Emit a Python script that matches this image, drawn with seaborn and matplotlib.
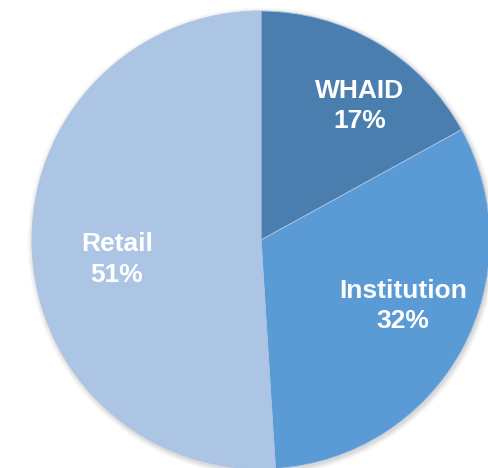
import numpy as np
import matplotlib
matplotlib.use("Agg")
import matplotlib.pyplot as plt
import seaborn as sns

segments = ["WHAID", "Institution", "Retail"]
shares = [17, 32, 51]
colors = ["#4A7EAE", "#5B9BD5", "#ADC5E4"]
# label centres as a fraction of the radius
label_pos = [(0.43, 0.585), (0.62, -0.29), (-0.63, -0.085)]

sns.set_theme(style="white")
plt.rcParams["font.family"] = ["Liberation Sans", "DejaVu Sans"]

fig = plt.figure(figsize=(4.89, 4.68), dpi=100)
# pie centre ~ (261, 240) px, radius ~229 px
r_px = 229
ax = fig.add_axes([(261 - r_px) / 489, (468 - 240 - r_px) / 468,
                   2 * r_px / 489, 2 * r_px / 468])
ax.axis("off")

# soft shadow
for i, a in enumerate([0.05, 0.04, 0.03, 0.02]):
    ax.add_patch(plt.Circle((0.004, -0.008), 1 + 0.006 * (i + 1),
                            color="black", alpha=a, lw=0, clip_on=False, zorder=0))

labels = [f"{s}\n{v}%" for s, v in zip(segments, shares)]
wedges, texts = ax.pie(shares, colors=colors, startangle=90, counterclock=False,
                       labels=labels, radius=1,
                       wedgeprops=dict(edgecolor="#A9C4E3", linewidth=0.6),
                       textprops=dict(color="white", fontsize=19, fontweight="bold",
                                      linespacing=1.32))
ax.set_xlim(-1, 1)
ax.set_ylim(-1, 1)
ax.set_aspect("equal")
for w in wedges:
    w.set_zorder(2)
for t, p in zip(texts, label_pos):
    t.set_position(p)
    t.set_ha("center")
    t.set_va("center")
    t.set_zorder(3)

fig.savefig("out.png", dpi=100)
plt.close(fig)
